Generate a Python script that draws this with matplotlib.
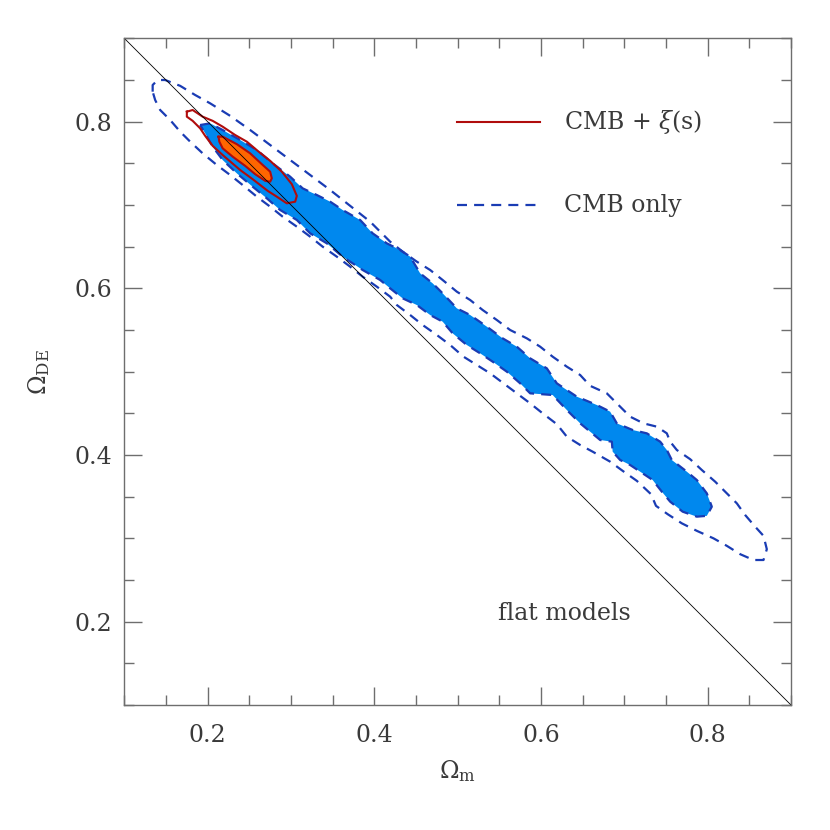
"""
omega_plane.py
Omega_m vs Omega_DE constraints: CMB only (blue) and CMB + xi(s) (red).
Contours read off the published figure.
"""
import numpy as np
import matplotlib
matplotlib.use("Agg")
import matplotlib.pyplot as plt

# CMB only, inner (filled) contour
cmb1_m = [0.191, 0.203, 0.218, 0.239, 0.259, 0.278, 0.299, 0.314, 0.331, 0.347,
          0.362, 0.383, 0.398, 0.415, 0.431, 0.443, 0.455, 0.470, 0.482, 0.499,
          0.515, 0.535, 0.554, 0.571, 0.587, 0.607, 0.619, 0.643, 0.667, 0.683,
          0.691, 0.710, 0.727, 0.743, 0.751, 0.757, 0.775, 0.787, 0.799, 0.805,
          0.799, 0.787, 0.770, 0.755, 0.745, 0.734, 0.722, 0.707, 0.695, 0.686,
          0.685, 0.671, 0.647, 0.631, 0.614, 0.587, 0.575, 0.559, 0.542, 0.527,
          0.511, 0.494, 0.482, 0.467, 0.451, 0.434, 0.419, 0.407, 0.386, 0.362,
          0.343, 0.323, 0.307, 0.287, 0.271, 0.254, 0.235, 0.218, 0.206, 0.197]
cmb1_de = [0.796, 0.798, 0.790, 0.778, 0.766, 0.750, 0.734, 0.720, 0.712, 0.704,
           0.694, 0.682, 0.666, 0.654, 0.646, 0.638, 0.618, 0.606, 0.594, 0.576,
           0.568, 0.554, 0.540, 0.530, 0.516, 0.504, 0.486, 0.470, 0.460, 0.452,
           0.438, 0.430, 0.426, 0.416, 0.406, 0.394, 0.380, 0.370, 0.354, 0.338,
           0.327, 0.326, 0.332, 0.344, 0.356, 0.370, 0.378, 0.388, 0.394, 0.404,
           0.416, 0.418, 0.438, 0.454, 0.472, 0.474, 0.486, 0.500, 0.512, 0.522,
           0.532, 0.546, 0.560, 0.568, 0.580, 0.588, 0.600, 0.610, 0.622, 0.638,
           0.654, 0.666, 0.682, 0.694, 0.708, 0.722, 0.738, 0.754, 0.770, 0.786]

# CMB only, outer contour
cmb2_m = [0.134, 0.134, 0.140, 0.149, 0.167, 0.185, 0.203, 0.227, 0.251, 0.275,
          0.299, 0.323, 0.347, 0.371, 0.395, 0.419, 0.434, 0.451, 0.467, 0.482,
          0.499, 0.515, 0.530, 0.547, 0.563, 0.583, 0.599, 0.614, 0.631, 0.647,
          0.659, 0.679, 0.695, 0.707, 0.723, 0.739, 0.751, 0.755, 0.763, 0.779,
          0.793, 0.809, 0.823, 0.835, 0.845, 0.857, 0.867, 0.871, 0.867, 0.855,
          0.839, 0.823, 0.807, 0.787, 0.769, 0.752, 0.738, 0.732, 0.715, 0.698,
          0.683, 0.662, 0.647, 0.631, 0.619, 0.602, 0.587, 0.571, 0.555, 0.539,
          0.523, 0.507, 0.491, 0.475, 0.458, 0.443, 0.427, 0.419, 0.403, 0.386,
          0.371, 0.355, 0.338, 0.323, 0.307, 0.290, 0.275, 0.259, 0.242, 0.227,
          0.211, 0.194, 0.179, 0.167, 0.155, 0.143, 0.137]
cmb2_de = [0.836, 0.844, 0.850, 0.850, 0.843, 0.832, 0.822, 0.807, 0.790, 0.772,
           0.754, 0.736, 0.718, 0.699, 0.680, 0.656, 0.644, 0.632, 0.622, 0.610,
           0.596, 0.586, 0.574, 0.562, 0.550, 0.540, 0.530, 0.518, 0.506, 0.496,
           0.483, 0.474, 0.458, 0.446, 0.438, 0.434, 0.426, 0.416, 0.406, 0.395,
           0.382, 0.368, 0.354, 0.342, 0.328, 0.314, 0.303, 0.287, 0.274, 0.274,
           0.281, 0.291, 0.300, 0.309, 0.318, 0.329, 0.339, 0.353, 0.369, 0.381,
           0.392, 0.404, 0.412, 0.422, 0.437, 0.450, 0.462, 0.474, 0.486, 0.498,
           0.508, 0.518, 0.532, 0.544, 0.556, 0.568, 0.580, 0.590, 0.602, 0.614,
           0.626, 0.638, 0.650, 0.662, 0.674, 0.686, 0.698, 0.710, 0.724, 0.736,
           0.748, 0.762, 0.776, 0.788, 0.802, 0.814, 0.826]

# CMB + xi(s), outer contour
xi2_m = [0.175, 0.182, 0.194, 0.206, 0.218, 0.233, 0.247, 0.260, 0.275, 0.289,
         0.301, 0.307, 0.305, 0.295, 0.283, 0.272, 0.254, 0.239, 0.218, 0.206,
         0.197, 0.191, 0.182, 0.175]
xi2_de = [0.812, 0.814, 0.806, 0.801, 0.794, 0.784, 0.776, 0.765, 0.753, 0.740,
          0.725, 0.711, 0.704, 0.702, 0.710, 0.717, 0.731, 0.742, 0.760, 0.771,
          0.783, 0.792, 0.801, 0.806]

# CMB + xi(s), inner (filled) contour
xi1_m = [0.213, 0.218, 0.235, 0.251, 0.265, 0.275, 0.277, 0.275, 0.269, 0.257,
         0.245, 0.230, 0.218, 0.214]
xi1_de = [0.782, 0.782, 0.773, 0.762, 0.749, 0.740, 0.732, 0.728, 0.729, 0.737,
          0.747, 0.758, 0.768, 0.776]

major_ticks = [0.2, 0.4, 0.6, 0.8]
tick_labels = ["0.2", "0.4", "0.6", "0.8"]

BLUE_FILL = "#0088ee"
BLUE_LINE = "#1a3cb4"
ORANGE = "#ff6600"
RED = "#b00c0c"
GREY = "#6e6e6e"
TXT = "#3a3a3a"
DASH = (0, (4.5, 3.2))

plt.rcParams["font.family"] = ["DejaVu Serif"]
plt.rcParams["mathtext.fontset"] = "dejavuserif"


def closed(a, b):
    return np.r_[a, a[:1]], np.r_[b, b[:1]]


fig = plt.figure(figsize=(8.3, 8.3), dpi=100)
ax = fig.add_axes([0.1498, 0.1506, 0.8032, 0.8032])

# CMB only
x, y = closed(cmb2_m, cmb2_de)
ax.plot(x, y, color=BLUE_LINE, lw=1.6, linestyle=DASH)
x, y = closed(cmb1_m, cmb1_de)
ax.fill(x, y, color=BLUE_FILL, lw=0)
ax.plot(x, y, color=BLUE_LINE, lw=1.6, linestyle=DASH)

# CMB + xi(s)
x, y = closed(xi2_m, xi2_de)
ax.plot(x, y, color=RED, lw=1.5)
x, y = closed(xi1_m, xi1_de)
ax.fill(x, y, color=ORANGE, lw=0)
ax.plot(x, y, color=RED, lw=1.5)

# flat models: Om + ODE = 1
flat = np.array([0.1, 0.9])
ax.plot(flat, 1 - flat, color="black", lw=0.6)

ax.set_xlim(0.1, 0.9)
ax.set_ylim(0.1, 0.9)
for axis in (ax.xaxis, ax.yaxis):
    axis.set_major_locator(plt.FixedLocator(major_ticks))
    axis.set_minor_locator(plt.MultipleLocator(0.05))
ax.set_xticklabels(tick_labels)
ax.set_yticklabels(tick_labels)
ax.tick_params(which="both", direction="in", top=True, right=True,
               color=GREY, width=1.0, labelsize=17, labelcolor=TXT)
ax.tick_params(axis="x", which="both", pad=14)
ax.tick_params(axis="y", which="both", pad=9)
ax.tick_params(which="major", length=13)
ax.tick_params(which="minor", length=7)
for s in ax.spines.values():
    s.set_color(GREY)
    s.set_linewidth(1.0)

ax.set_xlabel(r"$\Omega_{\rm m}$", fontsize=17, color=TXT, labelpad=8)
ax.set_ylabel(r"$\Omega_{\rm DE}$", fontsize=17, color=TXT, labelpad=16)

# legend drawn by hand
ax.plot([0.499, 0.624], [0.874, 0.874], transform=ax.transAxes, color=RED, lw=1.5)
ax.text(0.66, 0.874, r"CMB + $\xi$(s)", transform=ax.transAxes,
        fontsize=17, color=TXT, va="center")
ax.plot([0.499, 0.624], [0.75, 0.75], transform=ax.transAxes,
        color=BLUE_LINE, lw=1.6, linestyle=DASH)
ax.text(0.66, 0.75, "CMB only", transform=ax.transAxes,
        fontsize=17, color=TXT, va="center")
ax.text(0.56, 0.137, "flat models", transform=ax.transAxes,
        fontsize=17, color=TXT, va="center")

fig.savefig("out.png", dpi=100)
